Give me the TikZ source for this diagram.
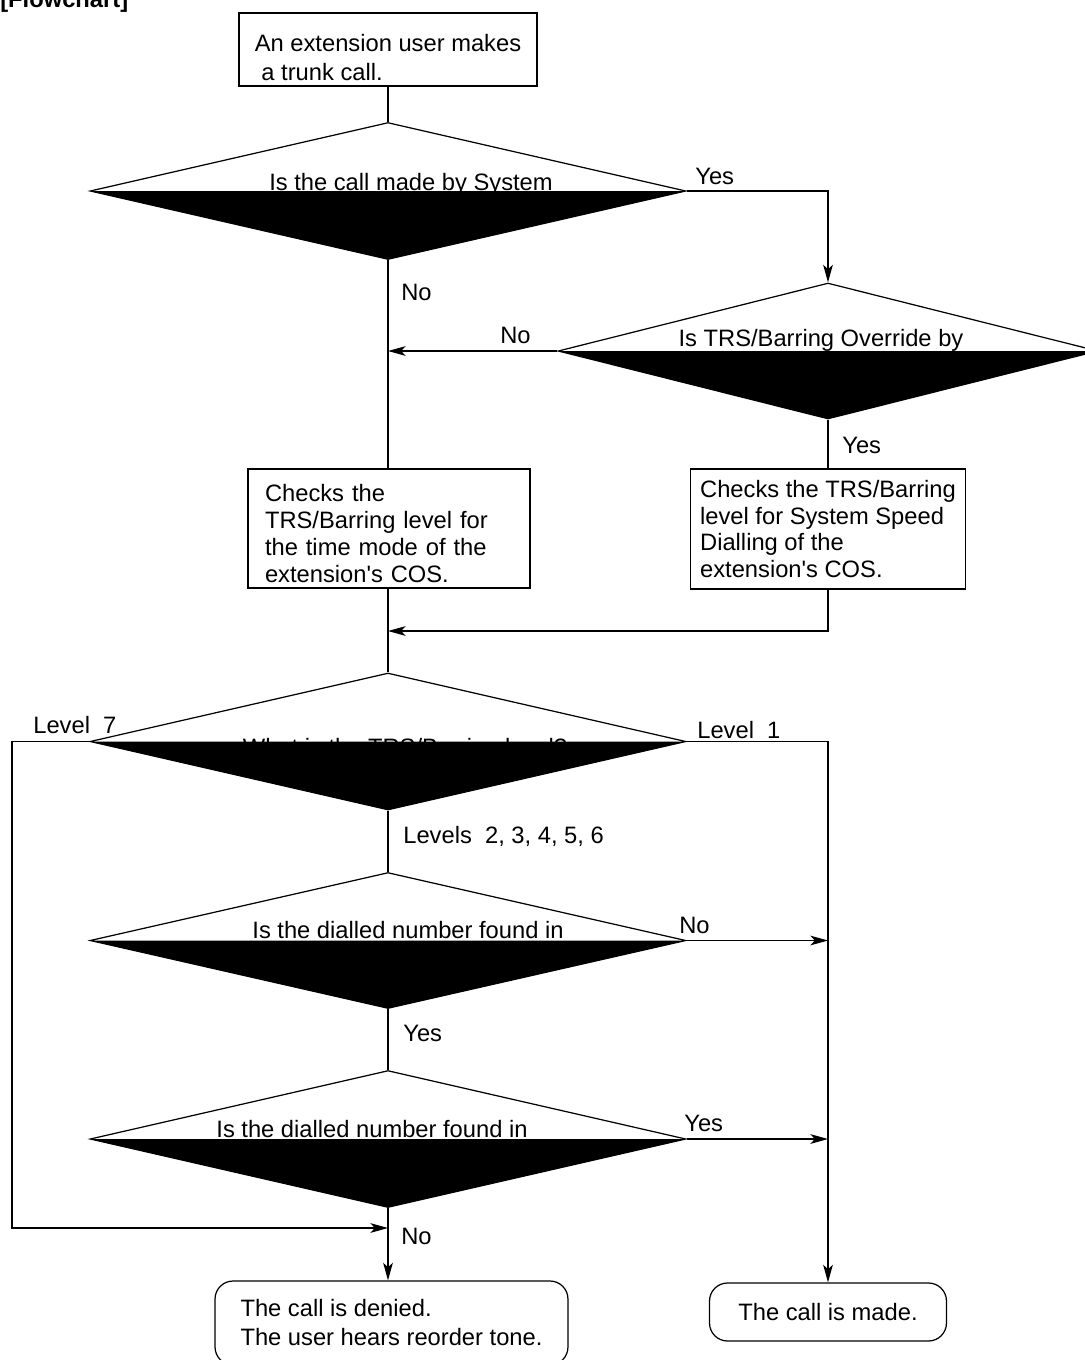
\documentclass[tikz,border=0pt]{standalone}
\usepackage{fontspec}
\setmainfont{Liberation Sans}[Ligatures=TeXOff]
\usetikzlibrary{shapes.geometric, arrows.meta}

\tikzset{
  txt/.style={font=\fontsize{13.5}{15.2}\selectfont, inner sep=0pt},
  procbox/.style={txt, draw, line width=0.7pt, align=left},
  endbox/.style={procbox, rounded corners=0.36cm},
  decision/.style 2 args={diamond, draw, line width=0.7pt, inner sep=0pt,
    minimum width=#1, minimum height=#2,
    path picture={\fill[black] (path picture bounding box.west)
      -- (path picture bounding box.east) -- (path picture bounding box.south) -- cycle;}},
  qtext/.style={txt, anchor=base},
  lbl/.style={txt, anchor=base west},
  line/.style={line width=0.7pt},
  arr/.style={line, -{Stealth[length=10pt, width=5.5pt, inset=2.5pt]}},
}

\begin{document}
\begin{tikzpicture}[x=0.02cm, y=-0.02cm]
\useasboundingbox (0,0) rectangle (1085,1360);
\clip (0,0) rectangle (1085,1360);

\node[lbl, font=\fontsize{13.5}{15.2}\selectfont\bfseries] (title) at (0,7) {[Flowchart]};

% boxes
\node[procbox, inner xsep=0.31cm, minimum width=5.96cm, minimum height=1.46cm] (start) at (388,49.5)
  {\rule{0pt}{19pt}An extension user makes\\[1.7pt]\ a trunk call.};
\node[procbox, text width=4.96cm, inner xsep=0.34cm, minimum height=2.38cm] (box1) at (389,528.5)
  {\rule{0pt}{15.5pt}Checks the\\TRS/Barring level for\\the time mode of the\\extension's COS.};
\node[procbox, inner xsep=0.19cm, minimum height=2.4cm] (box2) at (828,529)
  {Checks the TRS/Barring\\level for System Speed\\Dialling of the\\extension's COS.};
\node[endbox, inner xsep=0.51cm, minimum width=7.06cm, minimum height=1.68cm] (end1) at (391.5,1323)
  {The call is denied.\\[1.3pt]The user hears reorder tone.};
\node[endbox, minimum width=4.74cm, minimum height=1.16cm] (end2) at (828,1312) {The call is made.};

% decisions
\node[decision={11.92cm}{2.74cm}] (d1) at (388,191) {};
\node[decision={10.8cm}{2.72cm}] (d2) at (828,351) {};
\node[decision={11.92cm}{2.74cm}] (d3) at (388,741.5) {};
\node[decision={11.92cm}{2.72cm}] (d4) at (388,940.5) {};
\node[decision={11.92cm}{2.74cm}] (d5) at (388,1139) {};

\node[qtext] (q1) at (411,190) {Is the call made by System};
\node[qtext] (q2) at (821,346) {Is TRS/Barring Override by};
\node[qtext] (q3) at (405,755) {What is the TRS/Barring level?};
\node[qtext] (q4) at (408,938) {Is the dialled number found in};
\node[qtext] (q5) at (372,1137) {Is the dialled number found in};

% labels
\node[lbl] (yes1) at (695,184) {Yes};
\node[lbl] (no1) at (401,300) {No};
\node[lbl] (no2) at (500,343) {No};
\node[lbl] (yes2) at (842,453) {Yes};
\node[lbl] (lv7) at (33,733) {Level\ \ 7};
\node[lbl] (lv1) at (697,738) {Level\ \ 1};
\node[lbl] (lvs) at (403,843) {Levels\ \ 2, 3, 4, 5, 6};
\node[lbl] (no3) at (679,933) {No};
\node[lbl] (yes3) at (403,1041) {Yes};
\node[lbl] (yes4) at (684,1131) {Yes};
\node[lbl] (no4) at (401,1244) {No};

\coordinate (jn2) at (388,631);
\coordinate (lp) at (12,1228);
\coordinate (jn3) at (388,1228);

% connectors
\draw[line] (start.south) -- (d1.north);
\draw[arr] (d1.east) -| (d2.north);
\draw[line] (d1.south) -- (d1.south |- box1.north);
\draw[arr] (d2.west) -- (d2.west -| d1.south);
\draw[line] (d2.south) -- (box2.north);
\draw[arr] (box2.south) |- (jn2);
\draw[line] (d3.north |- box1.south) -- (d3.north);
\draw[arr] (d3.west) -| (lp) -- (jn3);
\draw[arr] (d3.east) -| (end2.north);
\draw[line] (d3.south) -- (d4.north);
\draw[arr] (d4.east) -- (d4.east -| end2.north);
\draw[line] (d4.south) -- (d5.north);
\draw[arr] (d5.east) -- (d5.east -| end2.north);
\draw[arr] (d5.south) -- (d5.south |- end1.north);

\end{tikzpicture}
\end{document}
